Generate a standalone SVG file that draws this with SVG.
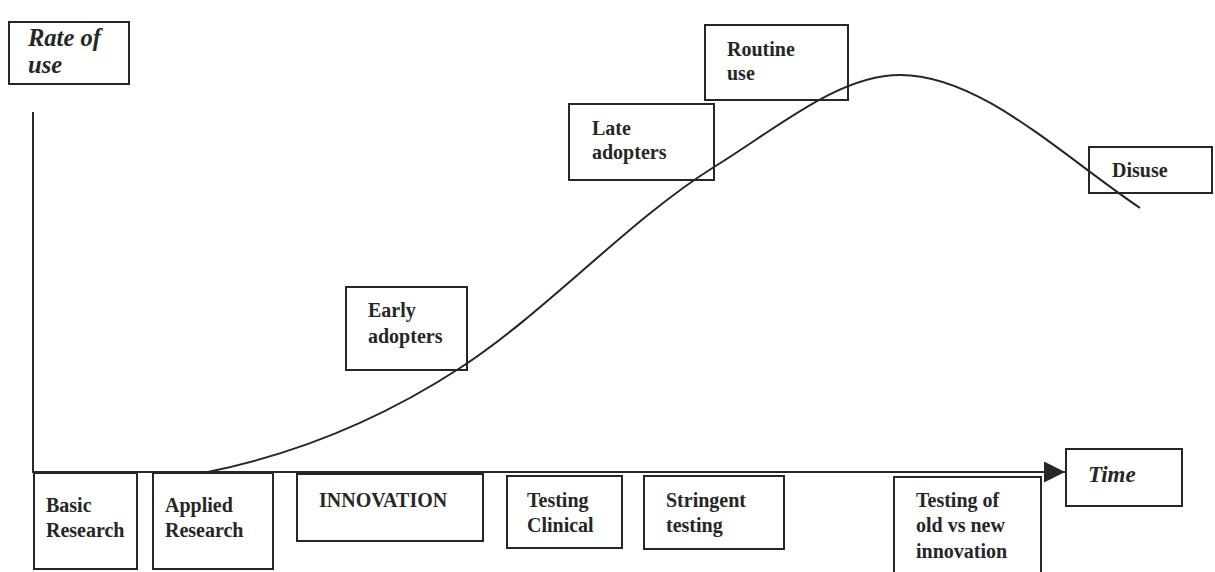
<svg xmlns="http://www.w3.org/2000/svg" width="1215" height="572" viewBox="0 0 1215 572">
<style>
.box{fill:none;stroke:#262626;stroke-width:2}
.t{font-family:"Liberation Serif","Times New Roman",serif;font-weight:bold;font-size:20px;fill:#262626}
.ti{font-family:"Liberation Serif","Times New Roman",serif;font-weight:bold;font-style:italic;font-size:23px;fill:#262626}
.ln{fill:none;stroke:#262626;stroke-width:2}
</style>
<defs>
<marker id="arr" viewBox="0 0 21 21" refX="21" refY="10.5" markerWidth="21" markerHeight="21" markerUnits="userSpaceOnUse" orient="auto">
<path d="M0,0 L21,10.5 L0,21 Z" fill="#262626"/>
</marker>
</defs>
<rect width="1215" height="572" fill="#fff"/>
<g id="connectors">
<line class="ln" x1="33" y1="112" x2="33" y2="473"/>
<line class="ln" x1="33" y1="472" x2="1065" y2="472" marker-end="url(#arr)"/>
<path class="ln" d="M203,473 C289,456 374,424 460,368 C545,313 629,220 714,167 C776,129 838,75 900,75 C980,75 1060,154 1140,208"/>
</g>
<g id="rate"><rect class="box" x="9" y="22" width="120" height="62"/><text class="ti" x="28" y="46" style="font-size:24.5px">Rate of</text><text class="ti" x="28" y="73" style="font-size:24.5px">use</text></g>
<g id="time"><rect class="box" x="1066" y="449" width="116" height="57"/><text class="ti" x="1088" y="482">Time</text></g>
<g id="basic"><rect class="box" x="34" y="473" width="103" height="96"/><text class="t" x="46" y="512">Basic</text><text class="t" x="46" y="537">Research</text></g>
<g id="applied"><rect class="box" x="153" y="473" width="120" height="96"/><text class="t" x="165" y="512">Applied</text><text class="t" x="165" y="537">Research</text></g>
<g id="innovation"><rect class="box" x="297" y="474" width="186" height="67"/><text class="t" x="319" y="507">INNOVATION</text></g>
<g id="clinical"><rect class="box" x="507" y="476" width="115" height="72"/><text class="t" x="527" y="507">Testing</text><text class="t" x="527" y="532">Clinical</text></g>
<g id="stringent"><rect class="box" x="644" y="476" width="140" height="73"/><text class="t" x="666" y="507">Stringent</text><text class="t" x="666" y="532">testing</text></g>
<g id="oldnew"><rect class="box" x="894" y="477" width="147" height="100"/><text class="t" x="916" y="507">Testing of</text><text class="t" x="916" y="532">old vs new</text><text class="t" x="916" y="558">innovation</text></g>
<g id="early"><rect class="box" x="346" y="287" width="121" height="83"/><text class="t" x="368" y="317">Early</text><text class="t" x="368" y="343">adopters</text></g>
<g id="late"><rect class="box" x="569" y="104" width="145" height="76"/><text class="t" x="592" y="135">Late</text><text class="t" x="592" y="159">adopters</text></g>
<g id="routine"><rect class="box" x="705" y="25" width="143" height="75"/><text class="t" x="727" y="56">Routine</text><text class="t" x="727" y="80">use</text></g>
<g id="disuse"><rect class="box" x="1089" y="147" width="123" height="46"/><text class="t" x="1112" y="177">Disuse</text></g>
</svg>
